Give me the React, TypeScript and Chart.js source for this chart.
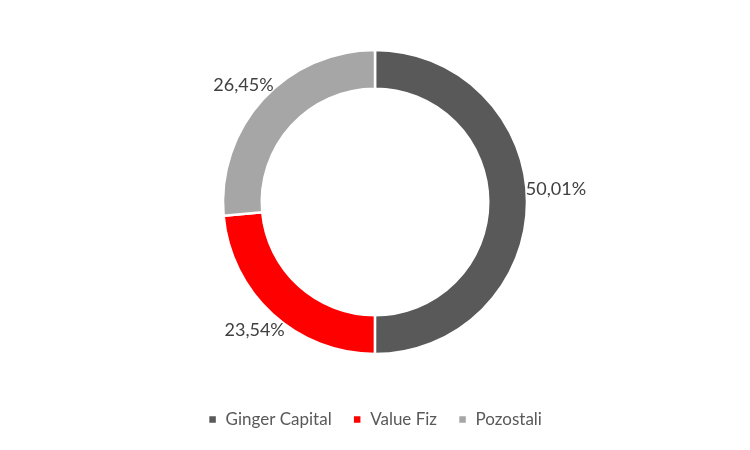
import React, { useEffect, useRef } from "react";
import { Chart, registerables } from "chart.js";

Chart.register(...registerables);

const categories = ["Ginger Capital", "Value Fiz", "Pozostali"];
const shares = [50.01, 23.54, 26.45];
const shareLabels = ["50,01%", "23,54%", "26,45%"];
const colors = ["#595959", "#FF0000", "#A6A6A6"];

const FONT = "Lato, 'Liberation Sans', sans-serif";

const outsideLabels = {
  id: "outsideLabels",
  afterDatasetsDraw(chart: any) {
    const { ctx } = chart;
    const meta = chart.getDatasetMeta(0);
    ctx.save();
    ctx.font = `18px ${FONT}`;
    ctx.fillStyle = "#404040";
    ctx.textAlign = "center";
    ctx.textBaseline = "middle";
    meta.data.forEach((arc: any, i: number) => {
      const { x, y, startAngle, endAngle, outerRadius } = arc.getProps(
        ["x", "y", "startAngle", "endAngle", "outerRadius"],
        true
      );
      const mid = (startAngle + endAngle) / 2;
      let lx: number;
      let ly: number;
      if (Math.abs(Math.sin(mid)) < 0.2) {
        lx = x + Math.cos(mid) * (outerRadius + 29);
        ly = y + Math.sin(mid) * (outerRadius + 29) - 13;
      } else {
        const r = outerRadius + 22;
        lx = x + Math.cos(mid) * r - 3;
        ly = y + Math.sin(mid) * r;
      }
      ctx.fillText(shareLabels[i], lx, ly);
    });
    ctx.restore();
  },
};

export default function App() {
  const ref = useRef<HTMLCanvasElement | null>(null);
  useEffect(() => {
    document.body.style.margin = "0";
    const chart = new Chart(ref.current as HTMLCanvasElement, {
      type: "doughnut",
      data: {
        labels: categories,
        datasets: [
          {
            data: shares,
            backgroundColor: colors,
            borderColor: "#FFFFFF",
            borderWidth: 2.5,
            radius: 152,
          },
        ],
      },
      options: {
        responsive: false,
        animation: false,
        cutout: "74.5%",
        layout: { padding: { top: 14, bottom: 12 } },
        plugins: {
          tooltip: { enabled: false },
          legend: {
            position: "bottom",
            labels: {
              boxWidth: 9,
              boxHeight: 9,
              padding: 21,
              color: "#595959",
              font: { size: 17, family: FONT },
            },
          },
        },
      },
      plugins: [outsideLabels],
    });
    return () => chart.destroy();
  }, []);
  return (
    <div style={{ width: 750, height: 450, background: "#fff" }}>
      <canvas ref={ref} width={750} height={450} />
    </div>
  );
}
